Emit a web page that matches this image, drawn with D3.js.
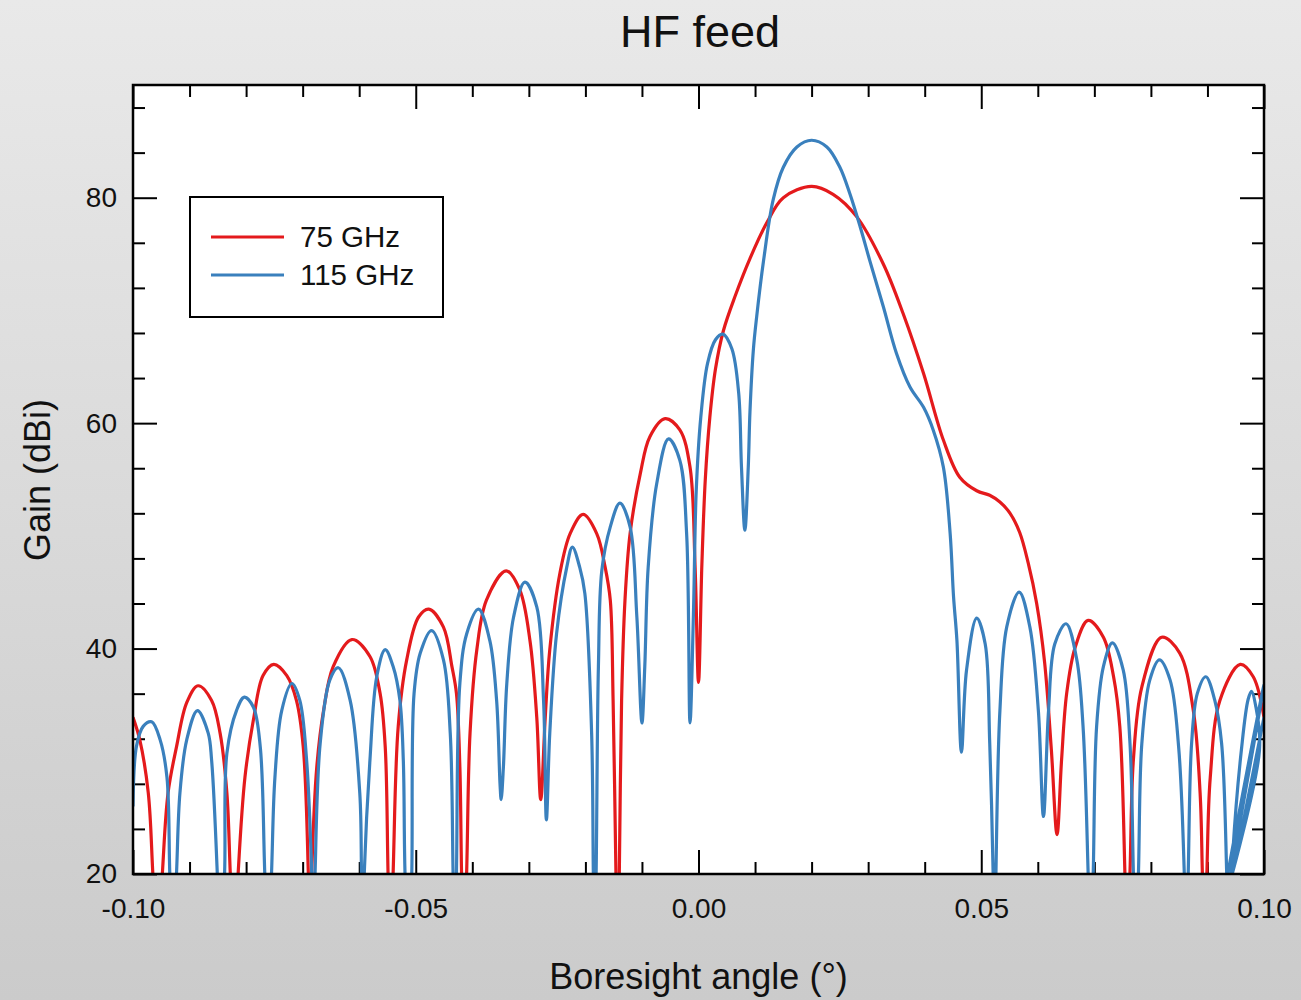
<!DOCTYPE html>
<meta charset="utf-8">
<head>
  <title>HF feed</title>
</head>

<style>
body { margin: 0; }
text { font-family: "Liberation Sans", Arial, sans-serif; fill: #111; }
.tick line { stroke: #000; stroke-width: 2; }
.domain { display: none; }
</style>

<body>
  <svg width="1301" height="1000"></svg>

  <script src="https://cdnjs.cloudflare.com/ajax/libs/d3/7.8.5/d3.min.js"></script>
  <script>

// series: [angle (deg), gain (dBi)]
// values below 20 are nulls that drop out of the plotted range
const red75 = [
  [-0.1000, 33.9], [-0.0988, 31.9], [-0.0973, 27.2], [-0.0965, 20.1], [-0.0957, 12], [-0.0948, 20.1],
  [-0.0938, 27.2], [-0.0923, 31.3], [-0.0905, 35.2], [-0.0885, 36.7], [-0.0861, 35.4], [-0.0846, 32.5],
  [-0.0834, 27.2], [-0.0828, 20.1], [-0.0821, 12], [-0.0814, 20.1], [-0.0802, 28.6], [-0.0787, 33.7],
  [-0.0770, 37.6], [-0.0751, 38.6], [-0.0728, 37.6], [-0.0711, 35.4], [-0.0699, 31.3], [-0.0690, 20.1],
  [-0.0687, 12], [-0.0684, 20.1], [-0.0675, 29.5], [-0.0663, 34.5], [-0.0646, 38.4], [-0.0613, 40.8],
  [-0.0581, 39.3], [-0.0563, 36.0], [-0.0554, 31.3], [-0.0549, 20.1], [-0.0545, 12], [-0.0540, 20.1],
  [-0.0531, 33.1], [-0.0516, 39.0], [-0.0495, 42.8], [-0.0477, 43.5], [-0.0451, 41.9], [-0.0436, 38.4],
  [-0.0428, 36.0], [-0.0422, 29.5], [-0.0419, 20.1], [-0.0415, 12], [-0.0410, 20.1], [-0.0404, 32.5],
  [-0.0392, 39.9], [-0.0375, 44.3], [-0.0340, 46.9], [-0.0316, 45.2], [-0.0298, 40.7], [-0.0286, 33.9],
  [-0.0279, 26.6], [-0.0271, 33.9], [-0.0263, 39.9], [-0.0245, 46.7], [-0.0227, 50.2], [-0.0204, 51.9],
  [-0.0180, 50.2], [-0.0165, 47.2], [-0.0156, 44.3], [-0.0151, 35.4], [-0.0146, 20.1], [-0.0143, 12],
  [-0.0140, 20.1], [-0.0136, 35.4], [-0.0130, 44.3], [-0.0121, 50.2], [-0.0103, 55.5], [-0.0086, 58.8],
  [-0.0059, 60.4], [-0.0033, 59.4], [-0.0015, 56.1], [-0.0006, 47.2], [0.0000, 37.0], [0.0006, 47.5],
  [0.0012, 55.0], [0.0020, 60.5], [0.0030, 64.8], [0.0044, 68.2], [0.0065, 71.3], [0.0091, 74.6],
  [0.0121, 77.8], [0.0150, 80.0], [0.0200, 81.0], [0.0238, 80.3], [0.0280, 78.3], [0.0327, 74.1],
  [0.0362, 69.7], [0.0398, 64.4], [0.0433, 58.5], [0.0462, 55.2], [0.0492, 54.0], [0.0515, 53.6],
  [0.0533, 53.0], [0.0551, 52.0], [0.0568, 50.3], [0.0583, 47.6], [0.0598, 44.0], [0.0612, 38.8],
  [0.0624, 31.0], [0.0634, 23.5], [0.0642, 30.1], [0.0651, 36.0], [0.0666, 40.1], [0.0689, 42.5],
  [0.0716, 41.0], [0.0734, 37.5], [0.0745, 33.1], [0.0754, 20.1], [0.0757, 12], [0.0763, 20.1],
  [0.0769, 30.1], [0.0784, 36.6], [0.0819, 41.0], [0.0851, 39.6], [0.0875, 34.5], [0.0887, 27.2],
  [0.0891, 20.1], [0.0895, 12], [0.0899, 20.1], [0.0905, 28.6], [0.0922, 35.4], [0.0958, 38.6],
  [0.0981, 37.5], [0.1000, 33.9]
];

const blue115 = [
  [-0.1000, 26.0], [-0.0994, 31.3], [-0.0982, 33.1], [-0.0967, 33.5], [-0.0952, 31.9], [-0.0940, 28.6],
  [-0.0935, 20.1], [-0.0930, 12], [-0.0923, 20.1], [-0.0917, 27.2], [-0.0905, 31.9], [-0.0886, 34.5],
  [-0.0867, 32.5], [-0.0861, 30.1], [-0.0851, 20.1], [-0.0846, 12], [-0.0838, 20.1], [-0.0834, 30.7],
  [-0.0817, 34.5], [-0.0803, 35.7], [-0.0787, 34.8], [-0.0775, 31.3], [-0.0767, 20.1], [-0.0761, 12],
  [-0.0755, 20.1], [-0.0749, 28.6], [-0.0737, 34.5], [-0.0719, 36.9], [-0.0705, 35.4], [-0.0693, 30.1],
  [-0.0684, 20.1], [-0.0681, 12], [-0.0678, 20.1], [-0.0669, 31.6], [-0.0652, 37.2], [-0.0637, 38.3],
  [-0.0616, 35.4], [-0.0599, 27.2], [-0.0596, 20.1], [-0.0594, 12], [-0.0591, 20.1], [-0.0581, 30.1],
  [-0.0569, 37.5], [-0.0554, 39.9], [-0.0540, 38.4], [-0.0528, 35.4], [-0.0522, 30.1], [-0.0519, 20.1],
  [-0.0512, 12], [-0.0507, 20.1], [-0.0503, 36.0], [-0.0492, 39.6], [-0.0472, 41.6], [-0.0451, 39.0],
  [-0.0439, 32.5], [-0.0434, 20.1], [-0.0431, 12], [-0.0428, 20.1], [-0.0422, 36.9], [-0.0410, 41.3],
  [-0.0389, 43.5], [-0.0369, 40.7], [-0.0357, 35.4], [-0.0351, 28.0], [-0.0349, 26.6], [-0.0345, 29.5],
  [-0.0339, 36.9], [-0.0327, 42.8], [-0.0307, 45.9], [-0.0286, 43.7], [-0.0274, 35.4], [-0.0269, 24.8],
  [-0.0263, 32.5], [-0.0251, 41.3], [-0.0233, 47.2], [-0.0223, 49.0], [-0.0210, 47.2], [-0.0201, 44.9],
  [-0.0189, 32.5], [-0.0186, 20.1], [-0.0184, 12], [-0.0181, 20.1], [-0.0177, 38.4], [-0.0171, 46.9],
  [-0.0156, 50.8], [-0.0139, 52.9], [-0.0121, 50.8], [-0.0109, 42.8], [-0.0100, 33.4], [-0.0095, 38.4],
  [-0.0089, 47.2], [-0.0074, 54.6], [-0.0053, 58.6], [-0.0033, 56.7], [-0.0021, 50.2], [-0.0015, 33.4],
  [-0.0009, 43.0], [-0.0004, 54.0], [0.0004, 60.5], [0.0016, 65.3], [0.0030, 67.4], [0.0043, 67.9],
  [0.0059, 66.6], [0.0071, 62.7], [0.0076, 56.1], [0.0082, 50.5], [0.0088, 56.1], [0.0091, 61.0],
  [0.0097, 66.5], [0.0103, 69.5], [0.0115, 74.4], [0.0132, 79.8], [0.0150, 82.7], [0.0174, 84.5],
  [0.0200, 85.1], [0.0227, 84.5], [0.0250, 82.7], [0.0268, 80.3], [0.0286, 77.4], [0.0303, 74.4],
  [0.0327, 70.3], [0.0350, 66.2], [0.0374, 63.2], [0.0398, 61.4], [0.0415, 59.4], [0.0433, 56.1],
  [0.0445, 50.2], [0.0451, 44.6], [0.0457, 40.7], [0.0465, 30.8], [0.0474, 38.1], [0.0492, 42.7],
  [0.0507, 40.4], [0.0515, 31.6], [0.0521, 20.1], [0.0524, 12], [0.0526, 20.1], [0.0533, 34.5],
  [0.0545, 41.9], [0.0567, 45.0], [0.0586, 41.9], [0.0601, 34.5], [0.0610, 25.1], [0.0619, 34.5],
  [0.0630, 40.4], [0.0650, 42.2], [0.0669, 39.0], [0.0680, 33.1], [0.0689, 20.1], [0.0693, 12],
  [0.0698, 20.1], [0.0704, 33.1], [0.0716, 38.4], [0.0732, 40.5], [0.0751, 38.1], [0.0763, 31.6],
  [0.0769, 20.1], [0.0773, 12], [0.0778, 20.1], [0.0784, 31.6], [0.0798, 37.2], [0.0815, 39.0],
  [0.0834, 37.2], [0.0849, 31.3], [0.0859, 20.1], [0.0862, 12], [0.0866, 20.1], [0.0872, 31.6],
  [0.0882, 36.0], [0.0897, 37.5], [0.0913, 35.4], [0.0925, 31.6], [0.0934, 20.1], [0.0937, 12],
  [0.0945, 22.0], [0.0960, 31.0], [0.0972, 35.5], [0.0978, 36.2], [0.0985, 35.0], [0.0992, 31.0],
  [0.0926, 17.0], [0.1000, 36.8], [0.0932, 17.0], [0.1000, 33.9]
];

const series = [
  { name: "75 GHz", color: "#e41a1c", values: red75 },
  { name: "115 GHz", color: "#3a80bd", values: blue115 }
];

const xMajor = [-0.10, -0.05, 0.00, 0.05, 0.10];
const xMinor = d3.range(-10, 11).map(d => d / 100).filter(d => !xMajor.some(m => Math.abs(m - d) < 1e-9));
const yMajor = [20, 40, 60, 80];
const yMinor = [24, 28, 32, 36, 44, 48, 52, 56, 64, 68, 72, 76, 84, 88];

const pLeft = 133, pRight = 1264, pTop = 85, pBottom = 874;

const svg = d3.select("svg");

// background
const defs = svg.append("defs");
const grad = defs.append("linearGradient")
  .attr("id", "bg").attr("x1", 0).attr("y1", 0).attr("x2", 0).attr("y2", 1);
grad.append("stop").attr("offset", "0%").attr("stop-color", "#e9e9e9");
grad.append("stop").attr("offset", "100%").attr("stop-color", "#cbcbcb");
defs.append("clipPath").attr("id", "plotclip")
  .append("rect").attr("x", pLeft).attr("y", pTop).attr("width", pRight - pLeft).attr("height", pBottom - pTop);

svg.append("rect").attr("width", 1301).attr("height", 1000).attr("fill", "url(#bg)");
svg.append("rect").attr("x", pLeft).attr("y", pTop).attr("width", pRight - pLeft).attr("height", pBottom - pTop)
  .attr("fill", "#fff");

const x = d3.scaleLinear().domain([-0.10, 0.10]).range([pLeft, pRight]);
const y = d3.scaleLinear().domain([20, 90]).range([pBottom, pTop]);

const fmt = d => d.toFixed(2);

// ticks point inward on all four sides
svg.append("g").attr("transform", `translate(0,${pBottom})`)
  .call(d3.axisBottom(x).tickValues(xMinor).tickSize(-12).tickFormat(""));
svg.append("g").attr("transform", `translate(0,${pBottom})`)
  .call(d3.axisBottom(x).tickValues(xMajor).tickSize(-24).tickPadding(24).tickFormat(fmt))
  .selectAll("text").style("font-size", "28px");
svg.append("g").attr("transform", `translate(0,${pTop})`)
  .call(d3.axisTop(x).tickValues(xMinor).tickSize(-12).tickFormat(""));
svg.append("g").attr("transform", `translate(0,${pTop})`)
  .call(d3.axisTop(x).tickValues(xMajor).tickSize(-24).tickFormat(""));

svg.append("g").attr("transform", `translate(${pLeft},0)`)
  .call(d3.axisLeft(y).tickValues(yMinor).tickSize(-12).tickFormat(""));
svg.append("g").attr("transform", `translate(${pLeft},0)`)
  .call(d3.axisLeft(y).tickValues(yMajor).tickSize(-24).tickPadding(16).tickFormat(d3.format("d")))
  .selectAll("text").style("font-size", "28px");
svg.append("g").attr("transform", `translate(${pRight},0)`)
  .call(d3.axisRight(y).tickValues(yMinor).tickSize(-12).tickFormat(""));
svg.append("g").attr("transform", `translate(${pRight},0)`)
  .call(d3.axisRight(y).tickValues(yMajor).tickSize(-24).tickFormat(""));

svg.selectAll(".tick text").attr("fill", "#111");

const line = d3.line()
  .x(d => x(d[0]))
  .y(d => y(d[1]))
  .curve(d3.curveCatmullRom.alpha(0.5));

svg.append("g").attr("clip-path", "url(#plotclip)")
  .selectAll("path")
  .data(series)
  .join("path")
  .attr("d", d => line(d.values))
  .attr("fill", "none")
  .attr("stroke", d => d.color)
  .attr("stroke-width", 3.2)
  .attr("stroke-linejoin", "round");

// frame
svg.append("rect").attr("x", pLeft).attr("y", pTop).attr("width", pRight - pLeft).attr("height", pBottom - pTop)
  .attr("fill", "none").attr("stroke", "#000").attr("stroke-width", 2.5);

// legend
const lg = svg.append("g");
lg.append("rect").attr("x", 190).attr("y", 197).attr("width", 253).attr("height", 120)
  .attr("fill", "#fff").attr("stroke", "#000").attr("stroke-width", 2);
series.forEach((s, i) => {
  const ly = 237 + i * 38;
  lg.append("line").attr("x1", 211).attr("x2", 284).attr("y1", ly).attr("y2", ly)
    .attr("stroke", s.color).attr("stroke-width", 3.2);
  lg.append("text").attr("x", 300).attr("y", ly + 10).style("font-size", "29.5px").text(s.name);
});

// titles
svg.append("text").attr("x", 700).attr("y", 47).attr("text-anchor", "middle")
  .style("font-size", "45px").text("HF feed");
svg.append("text").attr("x", 698.5).attr("y", 989).attr("text-anchor", "middle")
  .style("font-size", "36px").text("Boresight angle (°)");
svg.append("text").attr("transform", "translate(50,480) rotate(-90)").attr("text-anchor", "middle")
  .style("font-size", "36px").text("Gain (dBi)");

  </script>
</body>
</html>
